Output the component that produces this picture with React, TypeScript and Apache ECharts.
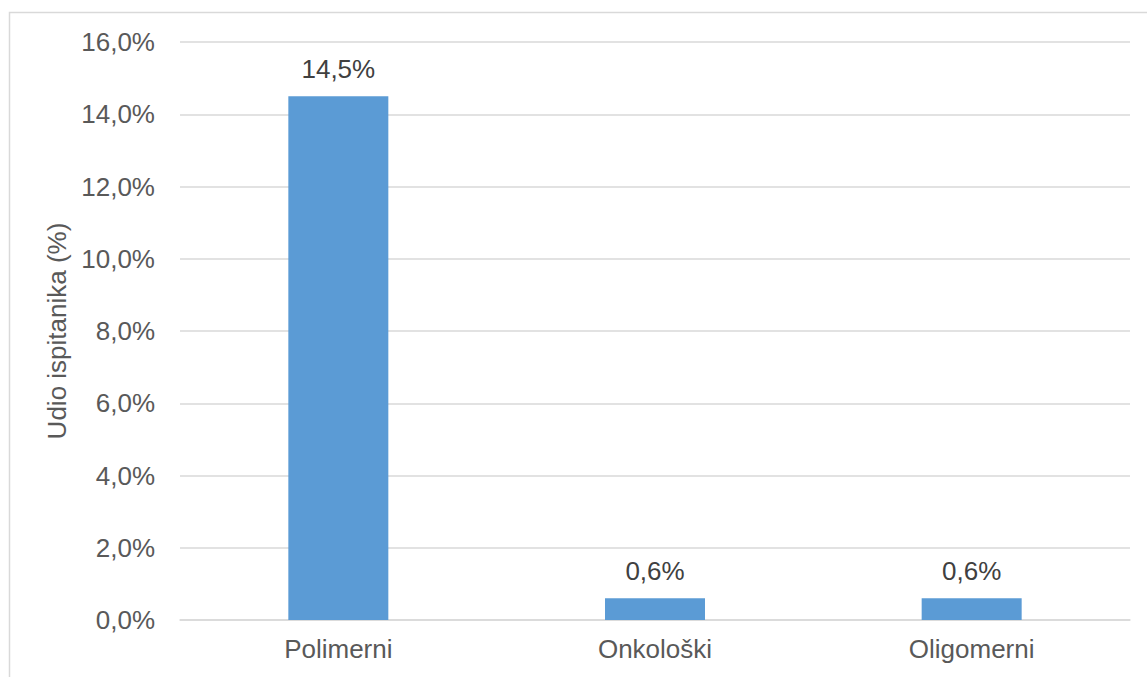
import React, { useEffect, useRef } from "react";
import * as echarts from "echarts";

const categories = ["Polimerni", "Onkološki", "Oligomerni"];
const values = [14.5, 0.6, 0.6];
const yMin = 0;
const yMax = 16;
const yInterval = 2;
const yAxisName = "Udio ispitanika (%)";

const fmt = (v: number) => v.toFixed(1).replace(".", ",") + "%";

export default function App() {
  const ref = useRef<HTMLDivElement>(null);
  useEffect(() => {
    document.body.style.margin = "0";
    const chart = echarts.init(ref.current!, null, { renderer: "svg" });
    const font = "'Liberation Sans', Arial, sans-serif";
    chart.setOption({
      animation: false,
      backgroundColor: "#ffffff",
      textStyle: { fontFamily: font },
      graphic: [
        {
          type: "rect",
          shape: { x: 9.5, y: 12.5, width: 1300, height: 1000 },
          style: { fill: "none", stroke: "#d9d9d9", lineWidth: 1.5 },
          silent: true,
        },
      ],
      grid: { left: 180, right: 17, top: 42, bottom: 57 },
      xAxis: {
        type: "category",
        data: categories,
        axisLine: { show: true, lineStyle: { color: "#d9d9d9", width: 1.5 } },
        axisTick: { show: false },
        axisLabel: { color: "#595959", fontSize: 26, fontFamily: font, margin: 16 },
      },
      yAxis: {
        type: "value",
        min: yMin,
        max: yMax,
        interval: yInterval,
        name: yAxisName,
        nameLocation: "middle",
        nameRotate: 90,
        nameGap: 107,
        nameTextStyle: { color: "#595959", fontSize: 26, fontFamily: font },
        axisLine: { show: false },
        axisTick: { show: false },
        axisLabel: {
          color: "#595959",
          fontSize: 26,
          fontFamily: font,
          margin: 25,
          formatter: (v: number) => fmt(v),
        },
        splitLine: { lineStyle: { color: "#d9d9d9", width: 1.5 } },
      },
      series: [
        {
          type: "bar",
          data: values,
          barWidth: 100,
          itemStyle: { color: "#5B9BD5" },
          label: {
            show: true,
            position: "top",
            distance: 14,
            color: "#404040",
            fontSize: 26,
            fontFamily: font,
            formatter: (p: any) => fmt(p.value),
          },
        },
      ],
    });
    return () => chart.dispose();
  }, []);
  return <div ref={ref} style={{ width: 1147, height: 677 }} />;
}
